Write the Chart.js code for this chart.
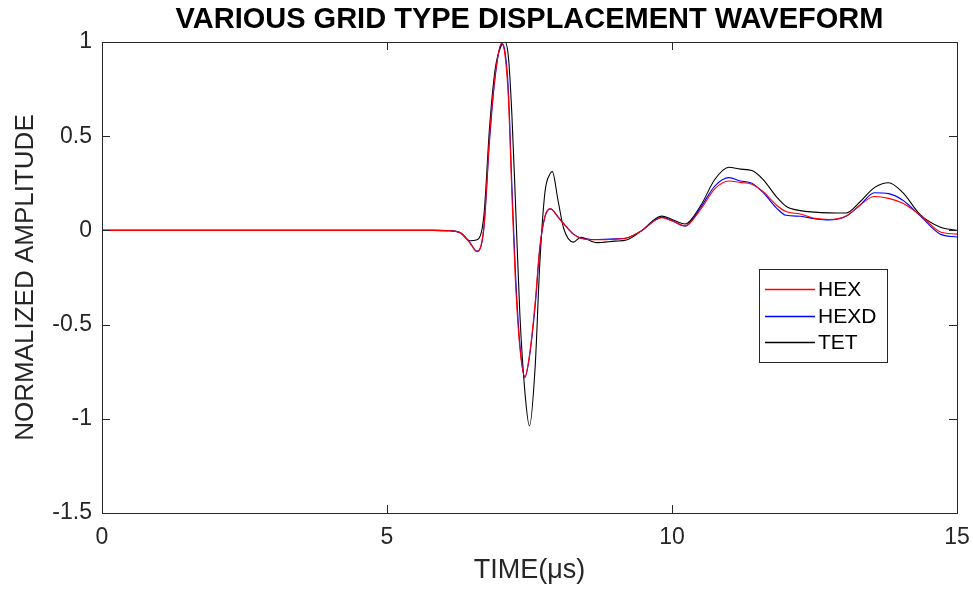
<!DOCTYPE html>
<html>
<head>
<meta charset="utf-8">
<script src="https://cdn.jsdelivr.net/npm/chart.js@4.4.1/dist/chart.umd.min.js"></script>
<style>
  html, body { margin: 0; padding: 0; background: #fff; }
  #wrap { width: 973px; height: 590px; }
</style>
</head>
<body>
<div id="wrap"><canvas id="waveChart"></canvas></div>
<script>
// time samples (microseconds), shared by the three traces
const timeUs = [0, 5.8, 6.1, 6.3, 6.45, 6.58, 6.7, 6.8, 6.9, 7.01, 7.07, 7.13, 7.19, 7.25, 7.33, 7.42,
    7.5, 7.6, 7.68, 7.77, 7.86, 7.9, 8.0, 8.1, 8.27, 8.4, 8.68, 9.0, 9.2, 9.45, 9.82, 10.0, 10.23,
    10.5, 10.75, 11.0, 11.2, 11.4, 11.6, 11.83, 12.0, 12.25, 12.5, 12.75, 13.05, 13.3, 13.55, 13.8,
    14.05, 14.35, 14.7, 15.0];

const hexValues = [0, 0, -0.002, -0.015, -0.065, -0.113, 0.02, 0.5, 0.83, 0.995, 0.93, 0.7, 0.2, -0.25,
    -0.62, -0.775, -0.66, -0.38, -0.09, 0.075, 0.114, 0.11, 0.07, 0.035, -0.02, -0.042, -0.05, -0.047,
    -0.042, -0.005, 0.067, 0.05, 0.025, 0.11, 0.22, 0.262, 0.255, 0.245, 0.205, 0.135, 0.1, 0.087,
    0.064, 0.058, 0.075, 0.135, 0.18, 0.17, 0.144, 0.082, -0.007, -0.02];

const hexdValues = [0, 0, -0.002, -0.015, -0.062, -0.11, 0.01, 0.48, 0.82, 0.99, 0.95, 0.74, 0.25, -0.2,
    -0.6, -0.78, -0.67, -0.4, -0.1, 0.07, 0.114, 0.11, 0.072, 0.036, -0.02, -0.04, -0.048, -0.045,
    -0.04, -0.005, 0.07, 0.052, 0.022, 0.12, 0.235, 0.28, 0.262, 0.25, 0.2, 0.12, 0.08, 0.075,
    0.062, 0.055, 0.075, 0.135, 0.2, 0.195, 0.16, 0.078, -0.019, -0.035];

const tetValues = [0, 0, -0.002, -0.015, -0.055, -0.05, 0.08, 0.55, 0.86, 0.985, 1.0, 0.92, 0.62, 0.18,
    -0.44, -0.86, -1.038, -0.72, -0.18, 0.2, 0.3, 0.312, 0.16, 0.01, -0.062, -0.037, -0.065, -0.057,
    -0.051, -0.005, 0.076, 0.058, 0.034, 0.13, 0.27, 0.335, 0.325, 0.318, 0.27, 0.179, 0.128, 0.105,
    0.097, 0.093, 0.092, 0.152, 0.227, 0.253, 0.2, 0.085, 0.018, 0.0];

const seriesNames = ['HEX', 'HEXD', 'TET'];
const seriesColors = ['#ff0000', '#0000ff', '#000000'];
const xTicks = [0, 5, 10, 15];
const yTicks = [-1.5, -1, -0.5, 0, 0.5, 1];

const FONT = '"Liberation Sans", Arial, Helvetica, sans-serif';
const AXIS_COLOR = '#262626';

function toPoints(values) {
    return timeUs.map((t, i) => ({ x: t, y: values[i] }));
}

// box, inward tick marks, title and legend drawn MATLAB style
const matlabFrame = {
    id: 'matlabFrame',
    afterDraw(chart) {
        const ctx = chart.ctx;
        const area = chart.chartArea;
        const xs = chart.scales.x;
        const ys = chart.scales.y;
        const tick = 8;

        ctx.save();
        ctx.strokeStyle = AXIS_COLOR;
        ctx.lineWidth = 1;
        ctx.beginPath();
        xTicks.forEach(v => {
            const px = Math.round(xs.getPixelForValue(v)) + 0.5;
            ctx.moveTo(px, area.bottom); ctx.lineTo(px, area.bottom - tick);
            ctx.moveTo(px, area.top); ctx.lineTo(px, area.top + tick);
        });
        yTicks.forEach(v => {
            const py = Math.round(ys.getPixelForValue(v)) + 0.5;
            ctx.moveTo(area.left, py); ctx.lineTo(area.left + tick, py);
            ctx.moveTo(area.right, py); ctx.lineTo(area.right - tick, py);
        });
        ctx.stroke();
        ctx.strokeRect(Math.round(area.left) + 0.5, Math.round(area.top) + 0.5,
            Math.round(area.right - area.left), Math.round(area.bottom - area.top));

        // title, centred over the axes
        ctx.fillStyle = '#000';
        ctx.font = 'bold 29px ' + FONT;
        ctx.textAlign = 'center';
        ctx.textBaseline = 'middle';
        ctx.fillText('VARIOUS GRID TYPE DISPLACEMENT WAVEFORM', (area.left + area.right) / 2, 20);

        // legend box inside the axes
        const lx = area.right - 198, ly = area.top + 227, lw = 128, lh = 93;
        ctx.fillStyle = '#fff';
        ctx.fillRect(lx, ly, lw, lh);
        ctx.strokeStyle = AXIS_COLOR;
        ctx.strokeRect(lx + 0.5, ly + 0.5, lw, lh);
        ctx.font = '21px ' + FONT;
        ctx.textAlign = 'left';
        seriesNames.forEach((name, i) => {
            const cy = Math.round(ly + 20 + i * 26.5) + 0.5;
            ctx.beginPath();
            ctx.strokeStyle = seriesColors[i];
            ctx.lineWidth = 1.3;
            ctx.moveTo(lx + 6, cy);
            ctx.lineTo(lx + 56, cy);
            ctx.stroke();
            ctx.fillStyle = '#000';
            ctx.fillText(name, lx + 59, cy + 1);
        });
        ctx.restore();
    }
};

const ctx = document.getElementById('waveChart').getContext('2d');

new Chart(ctx, {
    type: 'line',
    data: {
        datasets: seriesNames.map((name, i) => ({
            label: name,
            data: toPoints([hexValues, hexdValues, tetValues][i]),
            borderColor: seriesColors[i],
            borderWidth: 1.1,
            pointRadius: 0,
            fill: false,
            cubicInterpolationMode: 'monotone'
        }))
    },
    options: {
        responsive: true,
        maintainAspectRatio: false,
        animation: false,
        layout: { padding: { top: 42, right: 16, left: 0, bottom: 0 } },
        plugins: {
            legend: { display: false },
            tooltip: { enabled: false }
        },
        scales: {
            x: {
                type: 'linear',
                min: 0,
                max: 15,
                afterFit: scale => {
                    scale.height = 77;
                    scale.paddingLeft = 0;
                    scale.paddingRight = 0;
                },
                afterBuildTicks: scale => { scale.ticks = xTicks.map(v => ({ value: v })); },
                grid: { display: false, drawTicks: false },
                border: { display: false },
                ticks: {
                    padding: 11,
                    color: AXIS_COLOR,
                    font: { family: FONT, size: 23 },
                    maxRotation: 0,
                    callback: v => String(v)
                },
                title: {
                    display: true,
                    text: 'TIME(μs)',
                    color: AXIS_COLOR,
                    font: { family: FONT, size: 27 },
                    padding: { top: 0, bottom: 3 }
                }
            },
            y: {
                min: -1.5,
                max: 1,
                afterFit: scale => {
                    scale.width = 102;
                    scale.paddingTop = 0;
                    scale.paddingBottom = 0;
                },
                afterBuildTicks: scale => { scale.ticks = yTicks.map(v => ({ value: v })); },
                grid: { display: false, drawTicks: false },
                border: { display: false },
                ticks: {
                    padding: 10,
                    color: AXIS_COLOR,
                    font: { family: FONT, size: 23 },
                    callback: v => String(v)
                },
                title: {
                    display: true,
                    text: 'NORMALIZED AMPLITUDE',
                    color: AXIS_COLOR,
                    font: { family: FONT, size: 26 },
                    padding: { top: 10, bottom: 0 }
                }
            }
        }
    },
    plugins: [matlabFrame]
});
</script>
</body>
</html>
